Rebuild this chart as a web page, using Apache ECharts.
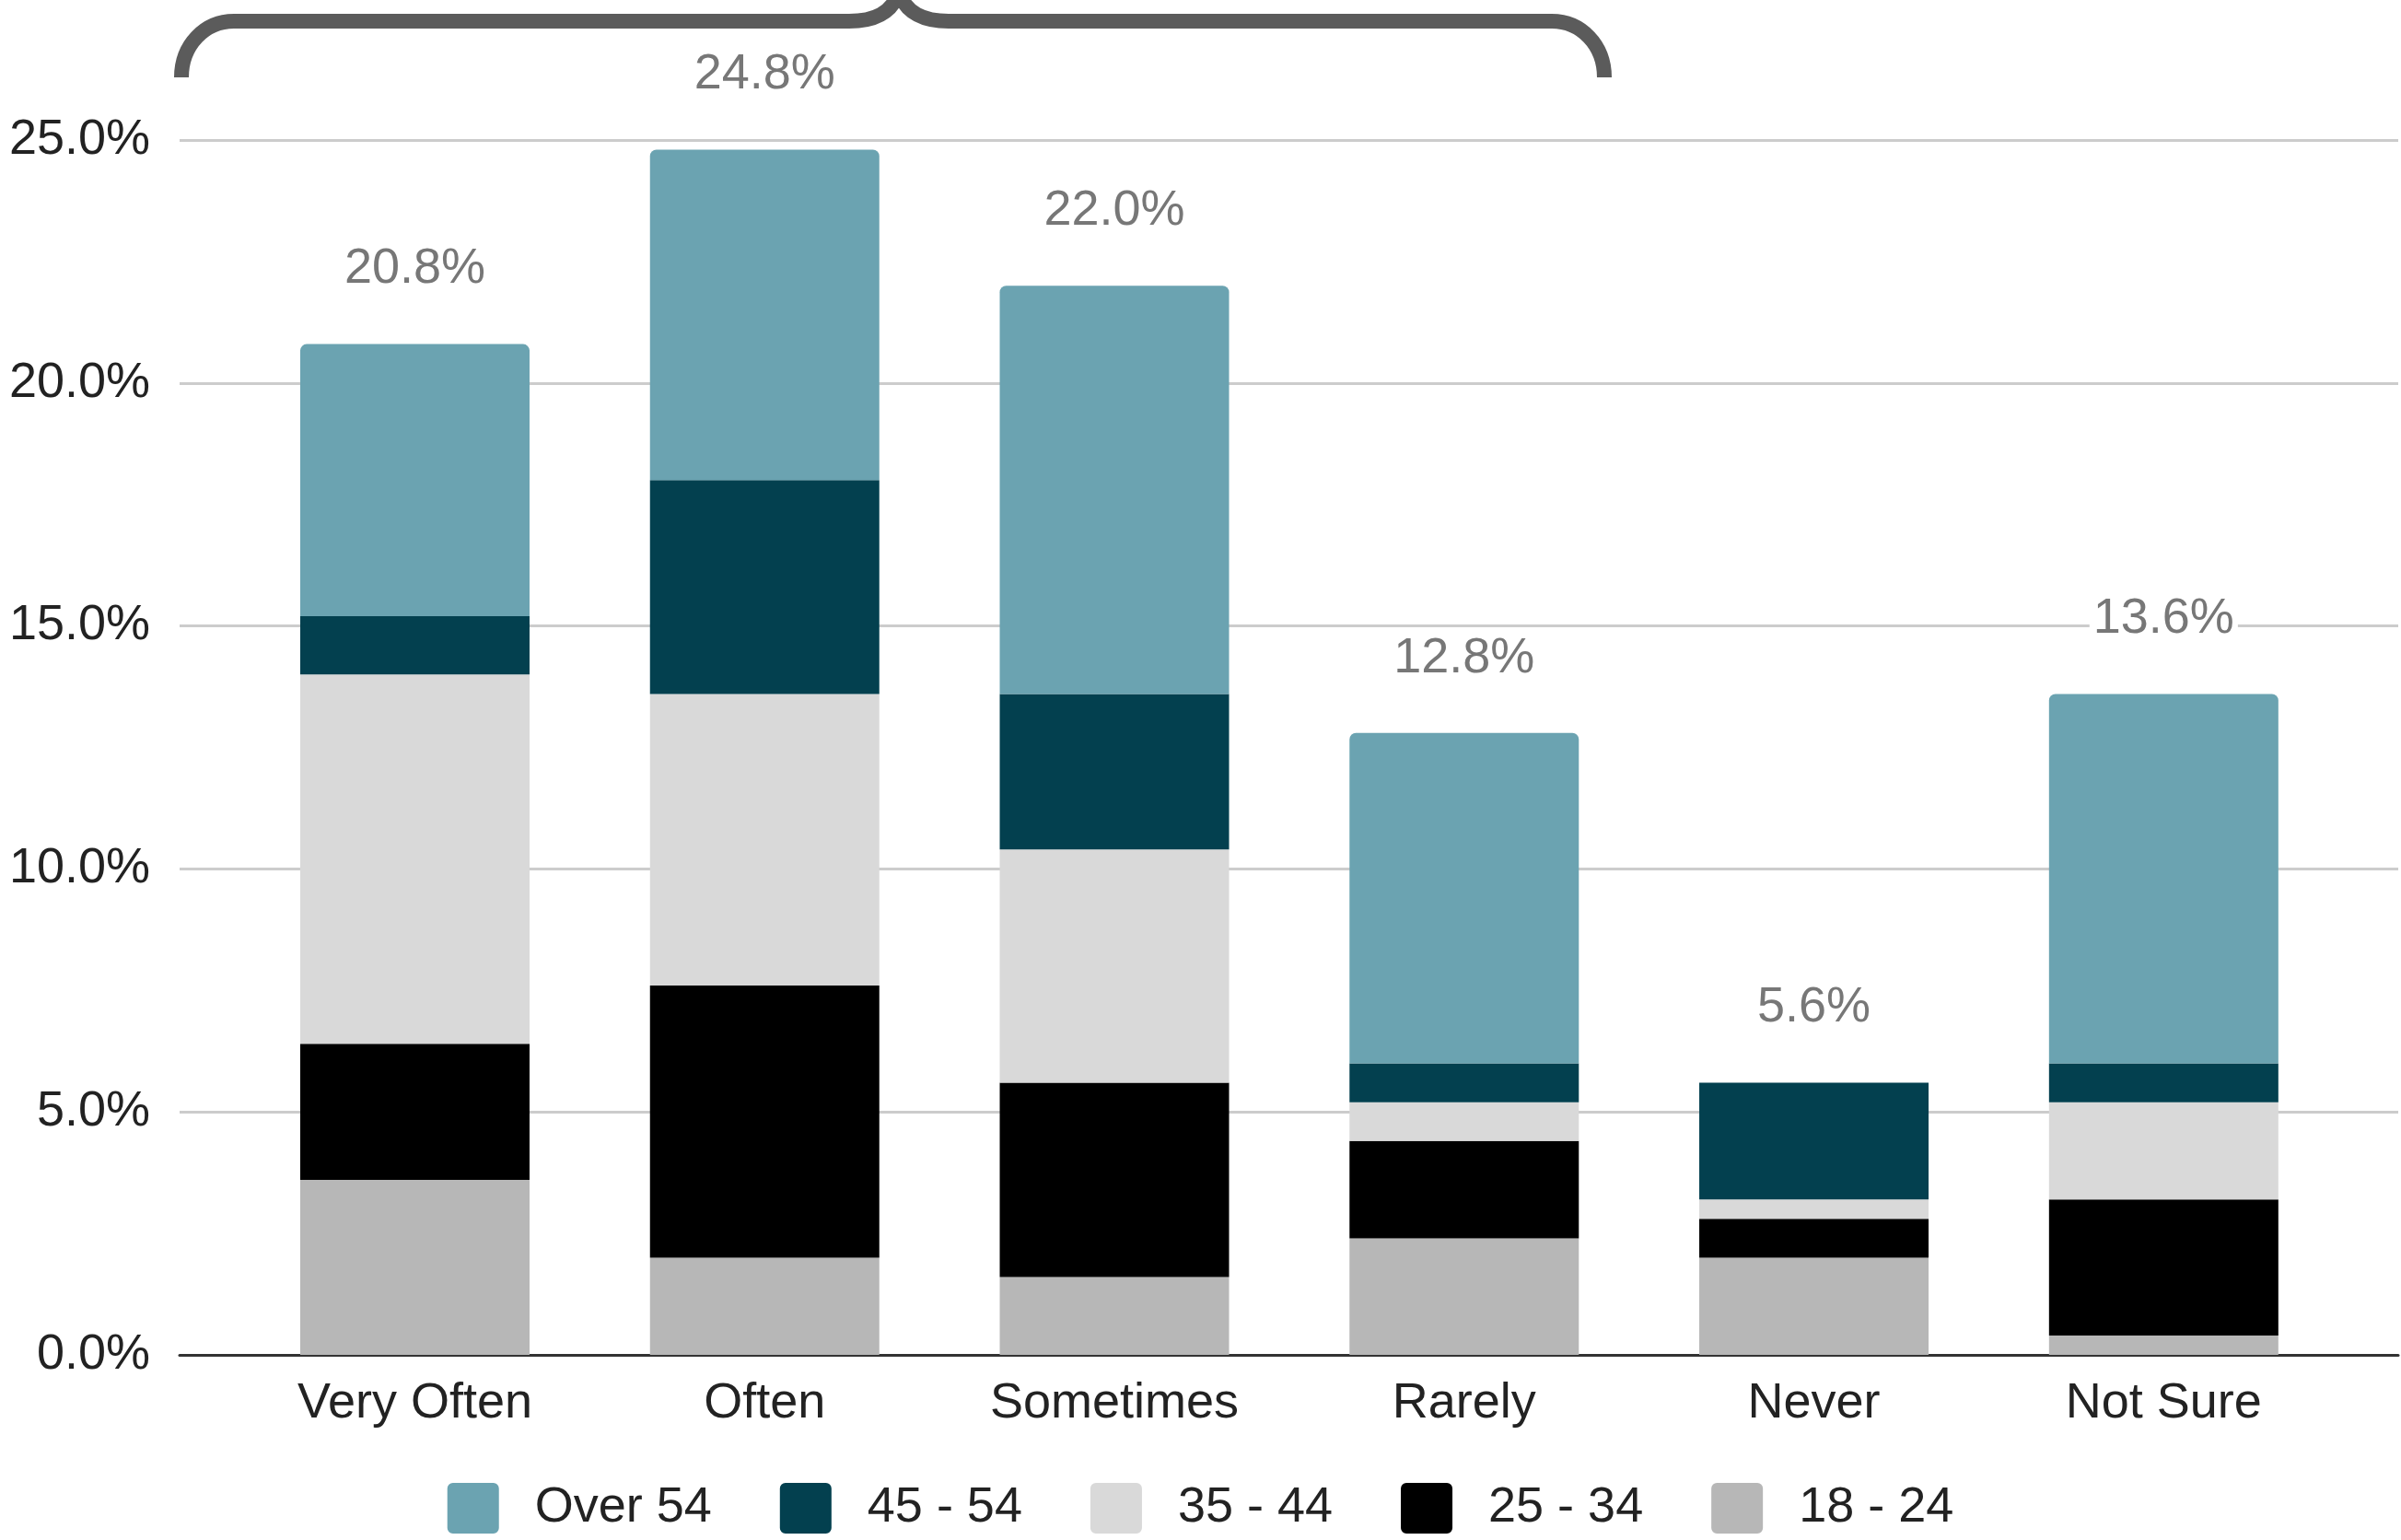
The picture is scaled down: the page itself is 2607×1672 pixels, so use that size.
<!DOCTYPE html>
<html>
<head>
<meta charset="utf-8">
<title>Frequency by age group</title>
<script src="https://cdn.jsdelivr.net/npm/echarts@6/dist/echarts.min.js"></script>
<style>
  html, body { margin: 0; padding: 0; background: #ffffff; }
  #chart { width: 2607px; height: 1672px; }
</style>
</head>
<body>
<div id="chart"></div>
<script>
// Answer categories along the x axis
const categories = ['Very Often', 'Often', 'Sometimes', 'Rarely', 'Never', 'Not Sure'];

// Share of respondents (%) per age group, stacked bottom to top
const age18to24 = [3.6, 2.0, 1.6, 2.4, 2.0, 0.4];
const age25to34 = [2.8, 5.6, 4.0, 2.0, 0.8, 2.8];
const age35to44 = [7.6, 6.0, 4.8, 0.8, 0.4, 2.0];
const age45to54 = [1.2, 4.4, 3.2, 0.8, 2.4, 0.8];
const ageOver54 = [5.6, 6.8, 8.4, 6.8, 0.0, 7.6];

// Value axis ticks
const yTicks = [0, 5, 10, 15, 20, 25];

const FONT = '"Liberation Sans", Arial, Helvetica, sans-serif';

// Stack totals shown above each column
const totals = categories.map((_, i) =>
  +(age18to24[i] + age25to34[i] + age35to44[i] + age45to54[i] + ageOver54[i]).toFixed(1)
);

const groups = [
  { name: '18 - 24', data: age18to24, color: '#b7b7b7' },
  { name: '25 - 34', data: age25to34, color: '#000000' },
  { name: '35 - 44', data: age35to44, color: '#d9d9d9' },
  { name: '45 - 54', data: age45to54, color: '#03404f' },
  { name: 'Over 54', data: ageOver54, color: '#6ba3b1', top: true }
];

const BAR_W = 249;
const yMin = yTicks[0], yMax = yTicks[yTicks.length - 1], yStep = yTicks[1] - yTicks[0];

const series = groups.map(g => ({
  name: g.name,
  type: 'bar',
  stack: 'share',
  xAxisIndex: 1,
  yAxisIndex: 1,
  barWidth: BAR_W,
  data: g.data,
  itemStyle: { color: g.color, borderRadius: g.top ? [7, 7, 0, 0] : 0 },
  emphasis: { disabled: true }
}));

// Invisible column carrying the total label
series.push({
  name: 'Total',
  type: 'bar',
  xAxisIndex: 1,
  yAxisIndex: 1,
  barWidth: BAR_W,
  barGap: '-100%',
  data: totals,
  z: 1,
  itemStyle: { color: 'rgba(0,0,0,0)' },
  emphasis: { disabled: true },
  label: {
    show: true,
    position: 'top',
    distance: 54,
    formatter: p => p.value.toFixed(1) + '%',
    fontFamily: FONT,
    fontSize: 54,
    lineHeight: 54,
    color: '#777777',
    backgroundColor: '#ffffff',
    padding: [0, 4]
  }
});

const legendIcon = 'path://M6,0 H50 A6,6 0 0 1 56,6 V49 A6,6 0 0 1 50,55 H6 A6,6 0 0 1 0,49 V6 A6,6 0 0 1 6,0 Z';

// Bracket over the first columns, built from curve and line pieces
const braceStyle = { stroke: '#5b5b5b', lineWidth: 16, fill: null, lineCap: 'butt' };
const curve = (x1, y1, cpx1, cpy1, cpx2, cpy2, x2, y2) => ({
  type: 'bezierCurve', z: 10,
  shape: { x1, y1, cpx1, cpy1, cpx2, cpy2, x2, y2 },
  style: braceStyle
});
const segment = (x1, y1, x2, y2) => ({
  type: 'line', z: 10,
  shape: { x1, y1, x2, y2 },
  style: braceStyle
});

const option = {
  backgroundColor: '#ffffff',
  animation: false,
  grid: [
    // full-width grid: gridlines, baseline and percentage labels
    { left: 195, right: 3, top: 152, bottom: 201 },
    // inner grid: the columns and their category labels
    { left: 260.6, right: 67.8, top: 152, bottom: 201 }
  ],
  xAxis: [
    {
      type: 'value', gridIndex: 0, min: 0, max: 1,
      axisLine: { show: true, lineStyle: { color: '#333333', width: 3 } },
      axisTick: { show: false }, axisLabel: { show: false }, splitLine: { show: false }
    },
    {
      type: 'category', gridIndex: 1, data: categories,
      axisLine: { show: false }, axisTick: { show: false },
      axisLabel: { fontFamily: FONT, fontSize: 54, color: '#222222', margin: 26 }
    }
  ],
  yAxis: [
    {
      type: 'value', gridIndex: 0, min: yMin, max: yMax, interval: yStep,
      axisLine: { show: false }, axisTick: { show: false },
      axisLabel: {
        fontFamily: FONT, fontSize: 54, color: '#222222', margin: 32,
        formatter: v => v.toFixed(1) + '%'
      },
      splitLine: { lineStyle: { color: '#cccccc', width: 3 } }
    },
    {
      type: 'value', gridIndex: 1, min: yMin, max: yMax, interval: yStep,
      show: false, splitLine: { show: false }
    }
  ],
  legend: {
    data: ['Over 54', '45 - 54', '35 - 44', '25 - 34', '18 - 24'],
    left: 'center',
    bottom: 2,
    icon: legendIcon,
    itemWidth: 56,
    itemHeight: 55,
    itemGap: 74,
    selectedMode: false,
    textStyle: { fontFamily: FONT, fontSize: 54, color: '#222222', padding: [0, 0, 0, 34] }
  },
  graphic: [
    curve(197, 84, 197, 48.5, 222.5, 23, 254, 23),
    segment(254, 23, 922, 23),
    curve(922, 23, 950, 23, 968, 14, 976, -8),
    curve(976, -8, 984, 14, 1002, 23, 1030, 23),
    segment(1030, 23, 1685, 23),
    curve(1685, 23, 1716.5, 23, 1742, 48.5, 1742, 84)
  ],
  series: series
};

const chart = echarts.init(document.getElementById('chart'), null, { renderer: 'canvas' });
chart.setOption(option);
</script>
</body>
</html>
